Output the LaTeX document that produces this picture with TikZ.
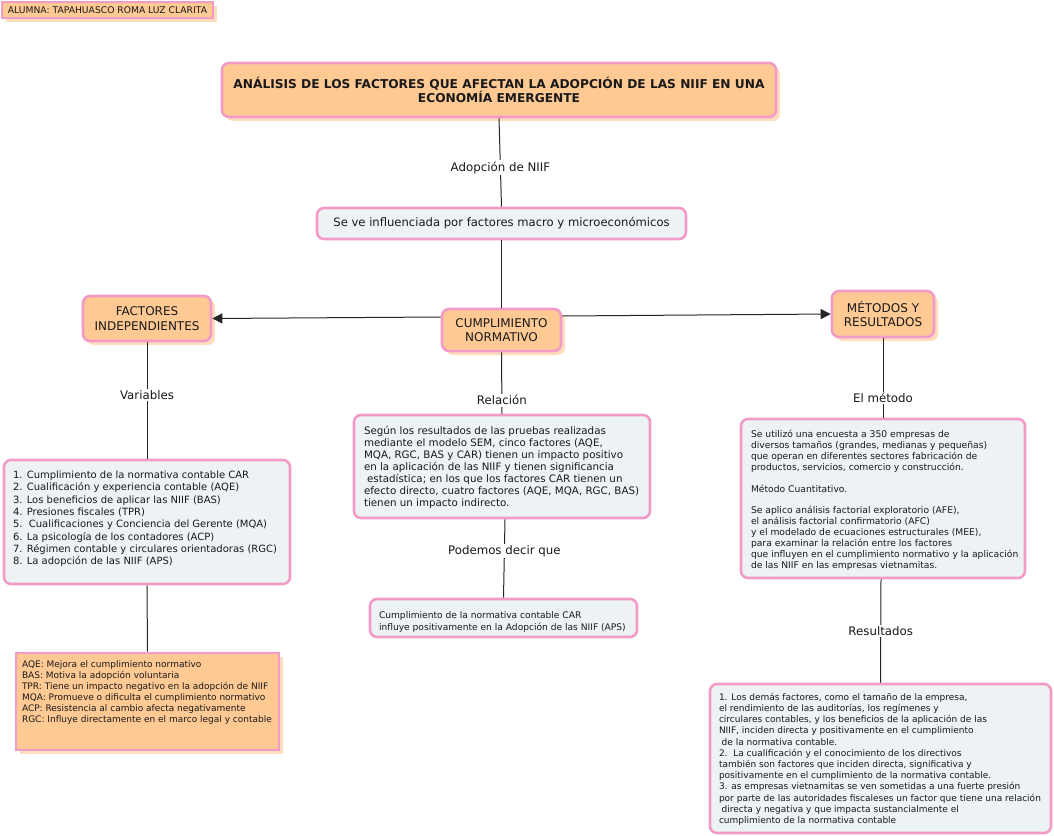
\documentclass[tikz,border=0pt]{standalone}
\usepackage{fontspec}
\setmainfont{DejaVu Sans}
\usetikzlibrary{arrows.meta,shadows,calc}
\definecolor{peach}{RGB}{255,201,148}
\definecolor{peachsh}{RGB}{255,222,190}
\definecolor{pinkb}{RGB}{242,155,199}
\definecolor{lightbg}{RGB}{237,242,245}
\definecolor{txt}{RGB}{25,25,25}
\newcommand{\txtblock}[5]{\parbox[c][#2][t]{#1}{#4\vspace*{#3}\begin{tabular}{@{}l@{}}#5\end{tabular}}}
\newcommand{\fsA}{\fontsize{10}{12.3}\selectfont}
\newcommand{\fsB}{\fontsize{9.2}{10.9}\selectfont}
\newcommand{\fsC}{\fontsize{9}{11.2}\selectfont}
\hfuzz=50pt
\begin{document}
\begin{tikzpicture}[x=1pt,y=-1pt,
  base/.style={draw=pinkb, line width=2.6pt, rounded corners=7pt, inner sep=0pt, text=txt, align=center},
  orangebox/.style={base, fill=peach, drop shadow={shadow xshift=4pt, shadow yshift=-4pt, fill=peachsh, opacity=1}},
  lightboxst/.style={base, fill=lightbg},
  conn/.style={draw=black!85, line width=1pt},
  arr/.style={conn, -{Triangle[length=10pt,width=10pt]}},
  lbl/.style={fill=white, inner sep=1.5pt, text=txt, font=\fontsize{11.8}{14}\selectfont},
  boxfont/.style={font=\fontsize{12}{14.5}\selectfont}
]
\useasboundingbox (0,0) rectangle (1054,835);

\node[orangebox, line width=2pt, rounded corners=0pt, minimum width=211pt, minimum height=16pt,
      font=\fontsize{9.2}{10}\selectfont] (alumna) at (107.5,10) {ALUMNA: TAPAHUASCO ROMA LUZ CLARITA};

\node[orangebox, minimum width=554pt, minimum height=54pt, font=\fontsize{12.2}{14.5}\selectfont\bfseries]
  (title) at (499,90) {ANÁLISIS DE LOS FACTORES QUE AFECTAN LA ADOPCIÓN DE LAS NIIF EN UNA\\ECONOMÍA EMERGENTE};

\node[lightboxst, minimum width=369pt, minimum height=31pt, font=\fontsize{11.6}{14}\selectfont]
  (seve) at (501.5,223.5) {Se ve influenciada por factores macro y microeconómicos};

\node[orangebox, boxfont, minimum width=119pt, minimum height=42pt] (cumpl) at (501.5,330) {CUMPLIMIENTO\\NORMATIVO};

\node[orangebox, boxfont, minimum width=128pt, minimum height=45pt] (fact) at (147,318.5) {FACTORES\\INDEPENDIENTES};

\node[orangebox, boxfont, minimum width=102pt, minimum height=46pt] (metod) at (883,314) {MÉTODOS Y\\RESULTADOS};

\node[lightboxst, minimum width=286pt, minimum height=124pt] (list) at (147,522)
 {\txtblock{268pt}{112pt}{4pt}{\fsA}{1. Cumplimiento de la normativa contable CAR\\
 2. Cualificación y experiencia contable (AQE)\\
 3. Los beneficios de aplicar las NIIF (BAS)\\
 4. Presiones fiscales (TPR)\\
 5.\ \ Cualificaciones y Conciencia del Gerente (MQA)\\
 6. La psicología de los contadores (ACP)\\
 7. Régimen contable y circulares orientadoras (RGC)\\
 8. La adopción de las NIIF (APS)}};

\node[orangebox, rounded corners=0pt, minimum width=263pt, minimum height=97pt] (impact) at (147.5,701.5)
 {\txtblock{251pt}{87pt}{2pt}{\fontsize{9}{11}\selectfont}{AQE: Mejora el cumplimiento normativo\\
 BAS: Motiva la adopción voluntaria\\
 TPR: Tiene un impacto negativo en la adopción de NIIF\\
 MQA: Promueve o dificulta el cumplimiento normativo\\
 ACP: Resistencia al cambio afecta negativamente\\
 RGC: Influye directamente en el marco legal y contable}};

\node[lightboxst, minimum width=296pt, minimum height=103pt] (segun) at (502,466.5)
 {\txtblock{276pt}{89pt}{4pt}{\fontsize{10.3}{12}\selectfont}{Según los resultados de las pruebas realizadas\\
 mediante el modelo SEM, cinco factores (AQE,\\
 MQA, RGC, BAS y CAR) tienen un impacto positivo\\
 en la aplicación de las NIIF y tienen significancia\\
 \hspace*{0.3em}estadística; en los que los factores CAR tienen un\\
 efecto directo, cuatro factores (AQE, MQA, RGC, BAS)\\
 tienen un impacto indirecto.}};

\node[lightboxst, minimum width=267pt, minimum height=38pt] (podemos) at (503.5,618)
 {\txtblock{249pt}{28pt}{6pt}{\fontsize{9.1}{11.8}\selectfont}{Cumplimiento de la normativa contable CAR\\
 influye positivamente en la Adopción de las NIIF (APS)}};

\node[lightboxst, minimum width=284pt, minimum height=159pt] (method) at (883,498.5)
 {\txtblock{264pt}{145pt}{4pt}{\fsB}{Se utilizó una encuesta a 350 empresas de\\
 diversos tamaños (grandes, medianas y pequeñas)\\
 que operan en diferentes sectores fabricación de\\
 productos, servicios, comercio y construcción.\\[10.9pt]
 Método Cuantitativo.\\[10.9pt]
 Se aplico análisis factorial exploratorio (AFE),\\
 el análisis factorial confirmatorio (AFC)\\
 y el modelado de ecuaciones estructurales (MEE),\\
 para examinar la relación entre los factores\\
 que influyen en el cumplimiento normativo y la aplicación\\
 de las NIIF en las empresas vietnamitas.}};

\node[lightboxst, minimum width=341pt, minimum height=149pt] (result) at (880.5,758.5)
 {\txtblock{323pt}{137pt}{2.5pt}{\fsC}{1. Los demás factores, como el tamaño de la empresa,\\
 el rendimiento de las auditorías, los regímenes y\\
 circulares contables, y los beneficios de la aplicación de las\\
 NIIF, inciden directa y positivamente en el cumplimiento\\
 \hspace*{0.3em}de la normativa contable.\\
 2.\ \ La cualificación y el conocimiento de los directivos\\
 también son factores que inciden directa, significativa y\\
 positivamente en el cumplimiento de la normativa contable.\\
 3. as empresas vietnamitas se ven sometidas a una fuerte presión\\
 por parte de las autoridades fiscaleses un factor que tiene una relación\\
 \hspace*{0.3em}directa y negativa y que impacta sustancialmente el\\
 cumplimiento de la normativa contable}};

% connectors
\draw[conn] (title.south) -- (seve.north) node[lbl, pos=0.56] (l1) {Adopción de NIIF};
\draw[conn] (seve.south) -- (cumpl.north);
\draw[arr] ([yshift=13pt]cumpl.west) -- (fact.east);
\draw[arr] ([yshift=14pt]cumpl.east) -- (metod.west);
\draw[conn] (fact.south) -- (list.north) node[lbl, pos=0.45] (l2) {Variables};
\draw[conn] (list.south) -- (impact.north);
\draw[conn] (cumpl.south) -- (segun.north) node[lbl, pos=0.78] (l3) {Relación};
\draw[conn] ([xshift=3pt]segun.south) -- (podemos.north) node[lbl, pos=0.405] (l4) {Podemos decir que};
\draw[conn] (metod.south) -- (method.north) node[lbl, pos=0.75] (l5) {El método};
\draw[conn] ([xshift=-2pt]method.south) -- (result.north) node[lbl, pos=0.5] (l6) {Resultados};
\end{tikzpicture}
\end{document}
